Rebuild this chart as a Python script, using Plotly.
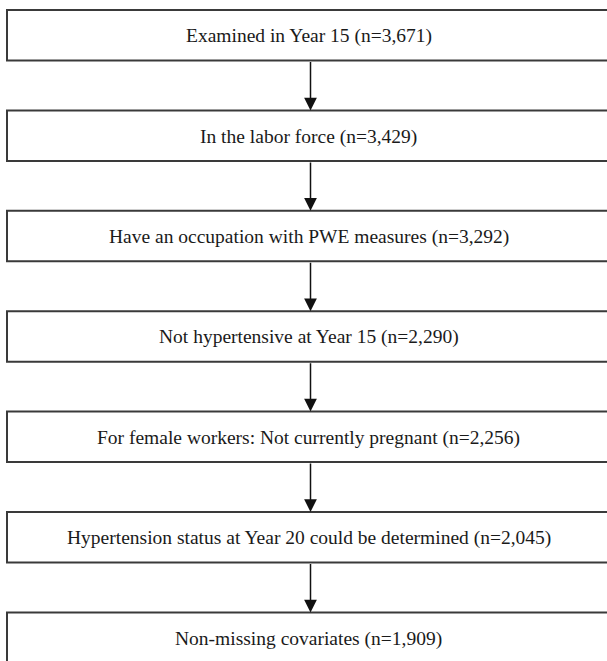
import plotly.graph_objects as go

# ---- data ----
steps = [
    "Examined in Year 15",
    "In the labor force",
    "Have an occupation with PWE measures",
    "Not hypertensive at Year 15",
    "For female workers: Not currently pregnant",
    "Hypertension status at Year 20 could be determined",
    "Non-missing covariates",
]
counts = [3671, 3429, 3292, 2290, 2256, 2045, 1909]

# ---- layout constants ----
W, H = 607, 661
box_left, box_right = 7, 607
top0, pitch, box_h = 10, 100.4, 50.5
arrow_x = 310.5

fig = go.Figure()
shapes, annotations = [], []
last = len(steps) - 1
for i, (label, n) in enumerate(zip(steps, counts)):
    y0 = top0 + i * pitch
    y1 = y0 + box_h
    shapes.append(dict(type="rect", xref="x", yref="y", x0=box_left, x1=box_right + 5,
                       y0=y0, y1=(y1 if i < last else H + 10),
                       line=dict(color="#3a3a3a", width=2),
                       fillcolor="white", layer="below"))
    annotations.append(dict(x=arrow_x - 2, y=(y0 + y1) / 2 + 1, xref="x", yref="y",
                            text=f"{label} (n={n:,})", showarrow=False,
                            font=dict(family="Liberation Serif, Times New Roman, serif",
                                      size=19.5, color="#1a1a1a"),
                            xanchor="center", yanchor="middle"))
    if i < last:
        next_top = top0 + (i + 1) * pitch
        annotations.append(dict(x=arrow_x, y=next_top, ax=arrow_x, ay=y1,
                                xref="x", yref="y", axref="x", ayref="y",
                                showarrow=True, arrowhead=2, arrowsize=1.7,
                                arrowwidth=1.5, arrowcolor="#111", text="",
                                standoff=0, startstandoff=0))

fig.add_trace(go.Scatter(x=[0], y=[0], mode="markers", marker=dict(opacity=0),
                         hoverinfo="skip", showlegend=False))
fig.update_layout(
    width=W, height=H, margin=dict(l=0, r=0, t=0, b=0),
    paper_bgcolor="white", plot_bgcolor="white",
    shapes=shapes, annotations=annotations, showlegend=False,
    xaxis=dict(range=[0, W], visible=False, fixedrange=True),
    yaxis=dict(range=[H, 0], visible=False, fixedrange=True),
)
fig.write_html("out.html", config={"displayModeBar": False},
               post_script="document.body.style.margin='0';document.body.style.overflow='hidden';")
